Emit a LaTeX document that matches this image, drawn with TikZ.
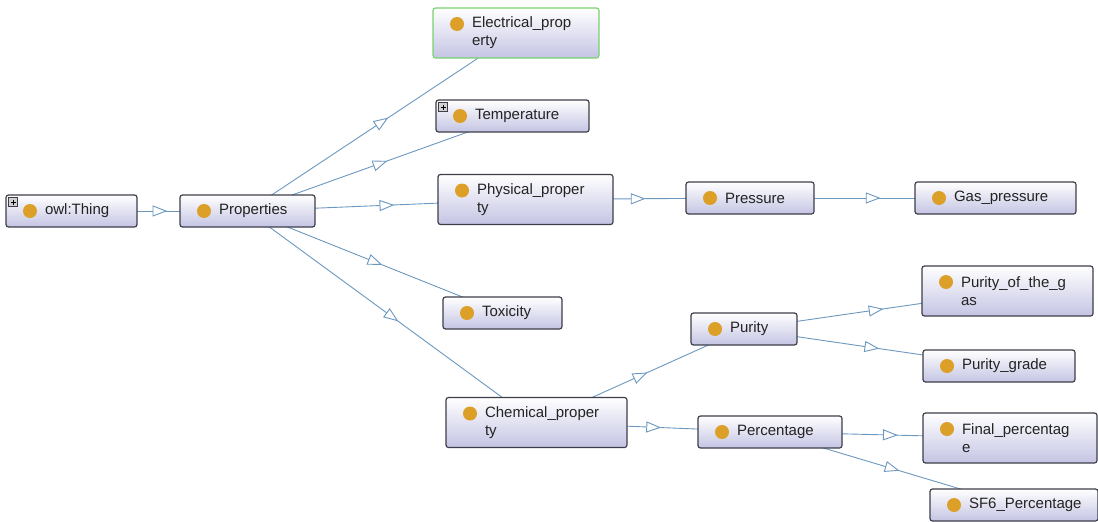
\documentclass[tikz,border=0pt]{standalone}
\usepackage{fontspec}
\setmainfont{Liberation Sans}
\usetikzlibrary{backgrounds,decorations.markings}

\definecolor{boxline}{RGB}{62,62,74}
\definecolor{boxbot}{RGB}{196,196,228}
\definecolor{dotcol}{RGB}{220,160,40}
\definecolor{edgecol}{RGB}{108,152,192}
\definecolor{selgreen}{RGB}{120,210,110}
\definecolor{txt}{RGB}{35,35,35}

\begin{document}
\begin{tikzpicture}
[x=1pt,y=-1pt,
 cls/.style={draw=boxline,line width=1.2pt,rounded corners=2.5pt,top color=white,bottom color=boxbot,
   minimum height=32pt,inner xsep=0pt,inner ysep=0pt,text width=#1,align=left,text=txt,
   font=\fontsize{15}{18}\selectfont,execute at begin node={\leftskip=39pt},
   path picture={\fill[dotcol] ([xshift=24pt,yshift=-16pt]path picture bounding box.north west) circle (7pt);}},
 two/.style={minimum height=50pt},
 exp/.style={path picture={
   \fill[dotcol] ([xshift=24pt,yshift=-16pt]path picture bounding box.north west) circle (7pt);
   \draw[boxline,fill=black!18,line width=0.6pt,sharp corners] ([xshift=2.5pt,yshift=-2.5pt]path picture bounding box.north west) rectangle ++(9pt,-9pt);
   \draw[black,line width=0.8pt] ([xshift=4.5pt,yshift=-7pt]path picture bounding box.north west) -- ++(5pt,0pt);
   \draw[black,line width=0.8pt] ([xshift=7pt,yshift=-4.5pt]path picture bounding box.north west) -- ++(0pt,-5pt);}},
 isa/.style={draw=edgecol,line width=0.9pt,postaction={decorate},
   decoration={markings,mark=at position 0.5 with {\draw[edgecol,line width=0.9pt,fill=white] (6.5pt,0pt) -- (-6.5pt,5pt) -- (-6.5pt,-5pt) -- cycle;}}}]

\useasboundingbox (0,0) rectangle (1098,522);

\node[cls=131pt,exp] (thing) at (71.5,211) {owl:Thing};
\node[cls=135pt] (props) at (247.5,211) {Properties};

\node[cls=166pt,two,draw=selgreen] (elec) at (516,33) {Electrical\_prop\\erty};
\node[cls=153pt,exp] (temp) at (512.5,116) {Temperature};
\node[cls=175pt,two] (phys) at (525.5,199.5) {Physical\_proper\\ty};
\node[cls=119pt] (tox) at (502.5,313) {Toxicity};
\node[cls=181pt,two] (chem) at (536.5,422.5) {Chemical\_proper\\ty};

\node[cls=128pt] (press) at (750,198) {Pressure};
\node[cls=161pt] (gas) at (995.5,198) {Gas\_pressure};

\node[cls=106pt] (purity) at (744,329) {Purity};
\node[cls=171pt,two] (pgas) at (1007.5,291) {Purity\_of\_the\_g\\as};
\node[cls=152pt] (pgrade) at (999,366) {Purity\_grade};

\node[cls=144pt] (perc) at (770,432) {Percentage};
\node[cls=174pt,two] (fperc) at (1010,438) {Final\_percentag\\e};
\node[cls=168pt] (sf6) at (1014,505) {SF6\_Percentage};

\begin{scope}[on background layer]
\draw[isa] (thing.center) -- (props.center);
\draw[isa] (props.center) -- (elec.center);
\draw[isa] (props.center) -- (temp.center);
\draw[isa] (props.center) -- (phys.center);
\draw[isa] (props.center) -- (tox.center);
\draw[isa] (props.center) -- (chem.center);
\draw[isa] (phys.center) -- (press.center);
\draw[isa] (press.center) -- (gas.center);
\draw[isa] (chem.center) -- (purity.center);
\draw[isa] (chem.center) -- (perc.center);
\draw[isa] (purity.center) -- (pgas.center);
\draw[isa] (purity.center) -- (pgrade.center);
\draw[isa] (perc.center) -- (fperc.center);
\draw[isa] (perc.center) -- (sf6.center);
\end{scope}
\end{tikzpicture}
\end{document}
